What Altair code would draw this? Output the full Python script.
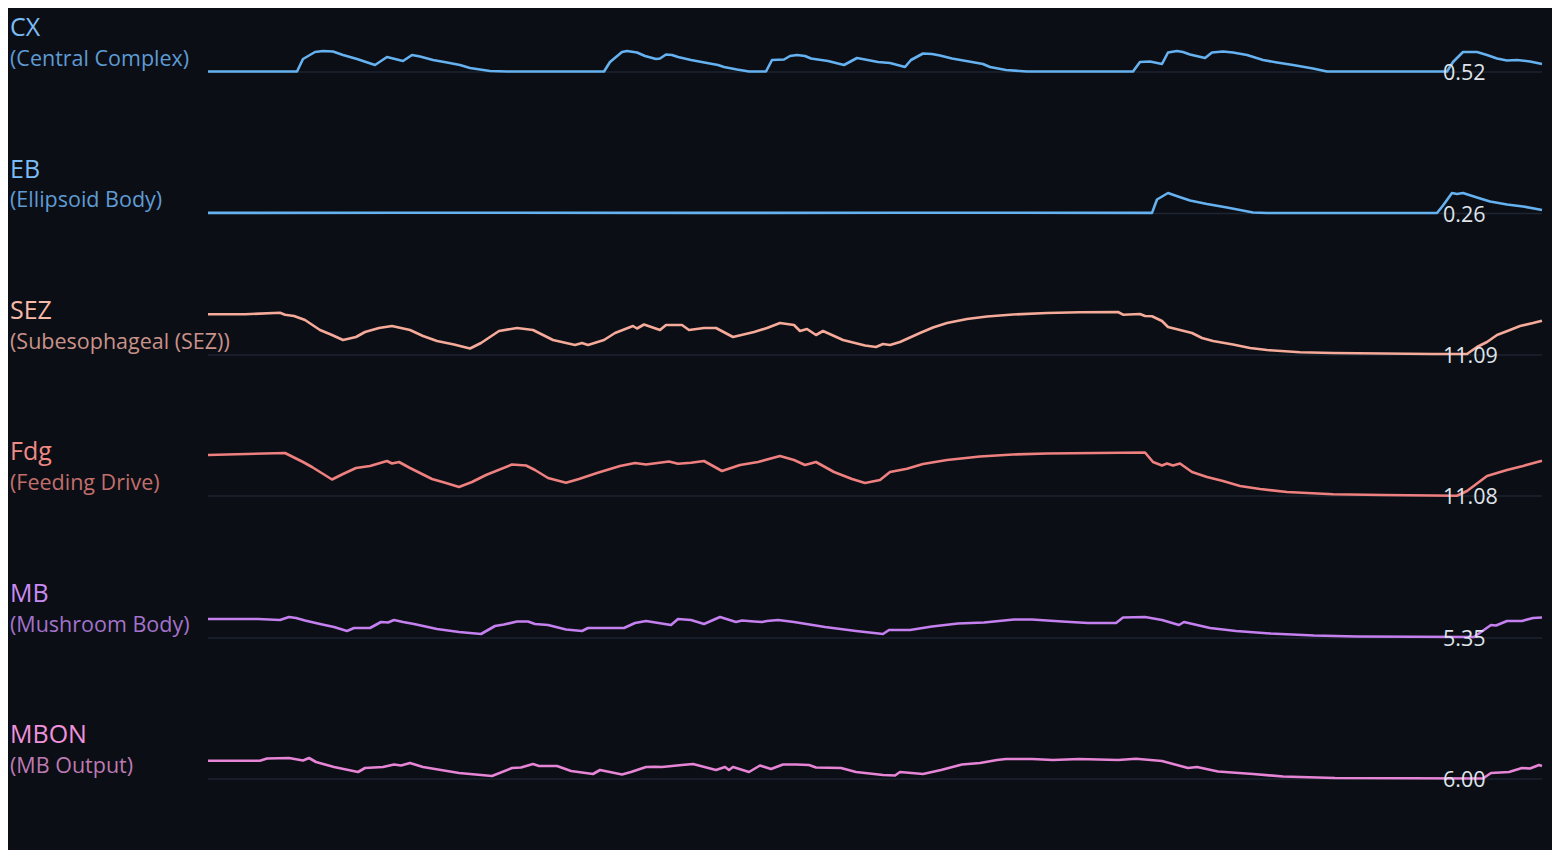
import altair as alt
import pandas as pd

# ---- data (t = frame position, v = activity level) ----
CX_T = [208, 297, 303, 315, 323, 333, 343, 357, 375, 387, 403, 412, 420, 433, 447, 460, 470, 490, 507,
        604, 610, 622, 627, 637, 645, 656, 660, 666, 672, 678, 691, 707, 718, 724, 737, 749, 766,
        772, 784, 790, 797, 805, 811, 828, 844, 857, 865, 878, 890, 905, 911, 923, 932, 940, 952,
        969, 983, 990, 1006, 1027, 1133, 1140, 1150, 1162, 1168, 1177, 1183, 1190, 1205, 1212, 1223,
        1233, 1247, 1263, 1277, 1293, 1313, 1327, 1447, 1453, 1463, 1477, 1487, 1497, 1507, 1517, 1530, 1542]
CX_V = [0.5, 0.5, 13, 20, 21, 20.5, 17, 13, 7, 15, 11, 17, 15.5, 12, 9.5, 7, 4, 1, 0.5,
        0.5, 10, 20, 21, 19.5, 16, 13, 13.5, 17.5, 17, 15, 12, 9, 7, 5, 2.5, 0.5, 0.5,
        12, 12.5, 16, 17, 16, 13.5, 11, 7, 14, 12.5, 10, 9, 5, 12, 18.5, 18, 16.5, 13.5,
        10.5, 8, 5, 2, 0.5, 0.5, 10, 10.5, 8, 19.5, 21, 20, 17.5, 14, 19.5, 20.5,
        19.5, 17, 12, 9.5, 7, 3.5, 0.5, 0.5, 10, 20, 20, 17, 13.5, 11.5, 12, 10.5, 8]

EB_T = [208, 400, 700, 900, 1152, 1157, 1168, 1178, 1190, 1207, 1227, 1253, 1267, 1437, 1443, 1452,
        1457, 1463, 1477, 1490, 1507, 1523, 1542]
EB_V = [0.6, 0.8, 0.6, 0.8, 0.6, 14, 20.5, 17, 13, 9.5, 6, 1, 0.5, 0.5, 8, 20.5,
        19.5, 20.5, 16, 12, 9, 7, 3.5]

SEZ_T = [208, 245, 280, 285, 294, 305, 320, 332, 343, 356, 365, 379, 392, 410, 423, 437, 454, 470, 481,
         499, 517, 533, 553, 575, 582, 588, 604, 615, 633, 637, 644, 660, 666, 682, 689, 704, 716, 733,
         754, 767, 780, 794, 800, 807, 816, 823, 843, 865, 876, 883, 890, 900, 920, 933, 947, 967, 987,
         1013, 1047, 1080, 1118, 1123, 1140, 1145, 1152, 1162, 1168, 1180, 1192, 1202, 1213, 1233, 1250,
         1267, 1300, 1333, 1383, 1433, 1467, 1477, 1487, 1497, 1510, 1520, 1533, 1542]
SEZ_V = [40.7, 40.7, 42.3, 40.3, 39, 35, 25, 20, 15, 18, 23, 27, 29, 25, 19, 14, 10.5, 6.5, 12,
         24, 27, 25, 15, 10, 12, 10, 15, 22, 29, 26.5, 30.5, 25, 30, 30, 25, 27, 27, 18,
         23, 27, 32, 30, 24, 26, 20, 24, 15, 9.5, 8, 11, 10, 13, 22, 27.5, 32, 36, 38.5,
         40.5, 42, 42.7, 43, 40.3, 41, 39, 38.7, 34, 28, 25, 22, 17, 14, 10.5, 7,
         5, 2.7, 2, 1.5, 1, 1, 8, 13, 20, 25, 29, 32, 34.3]

FDG_T = [208, 285, 303, 312, 332, 343, 356, 370, 387, 392, 399, 410, 432, 446, 459, 472, 486, 512, 526,
         535, 548, 566, 579, 597, 620, 635, 646, 669, 678, 691, 704, 722, 740, 758, 780, 794, 805, 816,
         834, 852, 865, 880, 890, 907, 923, 947, 980, 1013, 1047, 1145, 1153, 1162, 1167, 1173, 1180,
         1192, 1207, 1223, 1240, 1260, 1287, 1333, 1383, 1457, 1467, 1487, 1507, 1523, 1542]
FDG_V = [41, 43, 34, 29, 16.5, 22, 28, 30, 35, 32.5, 34, 28, 17, 13, 9, 14, 21, 31.5, 30.5,
         26, 18, 13.3, 17, 23, 30, 33, 31.5, 34.5, 32.3, 33.3, 35, 25, 31, 34, 40, 36, 31, 34,
         24, 17, 13, 16, 24, 27.3, 32, 36, 39.5, 41.5, 42.5, 43.5, 34, 30.5, 32.5, 30.5, 32.5,
         24, 19, 15, 10, 7, 4, 1.7, 1, 0.3, 5, 20, 26, 30, 35.3]

MB_T = [208, 258, 280, 289, 296, 305, 320, 334, 347, 354, 370, 381, 388, 394, 403, 414, 437, 459, 481,
        495, 504, 517, 528, 535, 548, 566, 582, 588, 624, 635, 646, 671, 678, 691, 704, 720, 736, 742,
        754, 762, 767, 778, 794, 825, 856, 883, 889, 910, 932, 958, 984, 1014, 1032, 1062, 1088, 1116,
        1123, 1145, 1162, 1179, 1184, 1210, 1236, 1270, 1314, 1357, 1474, 1491, 1496, 1507, 1522, 1533, 1542]
MB_V = [19, 19, 18, 21, 20, 17.5, 14, 11, 7, 10, 10, 16, 15.5, 18, 16, 14, 9, 6, 4,
        12, 13.5, 16.5, 16.5, 14, 13, 8.5, 7, 10, 10, 15, 17, 13, 19, 18, 14, 21, 16, 17.5,
        16.5, 16, 17, 18, 16, 11, 7, 4, 8, 8, 11.5, 14.5, 15.5, 18.5, 18.5, 16.5, 15, 15,
        20.5, 21, 18, 13, 16, 10, 7, 4.5, 2.5, 1.5, 1, 13, 12.5, 17, 17, 20, 20.5]

MBON_T = [208, 260, 267, 289, 303, 309, 316, 334, 358, 365, 383, 394, 401, 410, 423, 459, 492, 512, 521,
          533, 539, 557, 571, 593, 600, 622, 631, 646, 655, 662, 682, 693, 716, 725, 729, 733, 749, 760,
          771, 783, 796, 809, 816, 841, 856, 883, 895, 900, 923, 941, 962, 980, 997, 1006, 1032, 1053,
          1079, 1118, 1136, 1162, 1188, 1197, 1218, 1253, 1283, 1335, 1483, 1491, 1509, 1522, 1530, 1539, 1542]
MBON_V = [18.3, 18.3, 20.5, 21, 18.5, 21, 17, 12, 7, 11, 12, 14.5, 13.5, 16, 12, 6, 3, 11, 11.5,
          15, 13, 13, 8, 5, 9, 4.5, 7, 12, 12.3, 12, 14, 15, 9, 12, 9, 12, 7, 13.5,
          10, 14.5, 14.5, 14, 11.5, 11, 7, 4, 3.5, 7, 5, 9, 14.5, 16, 19, 20, 20, 19,
          20, 19, 20.3, 18, 11, 12, 7.5, 5, 2.5, 1, 0.5, 6, 7, 11, 10.5, 14, 13]

NAMES = ["CX", "EB", "SEZ", "Fdg", "MB", "MBON"]
DESCS = ["(Central Complex)", "(Ellipsoid Body)", "(Subesophageal (SEZ))",
         "(Feeding Drive)", "(Mushroom Body)", "(MB Output)"]
VALUE_LABELS = ["0.52", "0.26", "11.09", "11.08", "5.35", "6.00"]
SERIES_T = [CX_T, EB_T, SEZ_T, FDG_T, MB_T, MBON_T]
SERIES_V = [CX_V, EB_V, SEZ_V, FDG_V, MB_V, MBON_V]

# ---- styling ----
LINE_COLORS = ["#66b2f0", "#66b2f0", "#f5aa9a", "#ef8080", "#c580f0", "#e684d6"]
NAME_COLORS = ["#7cbcf5", "#7cbcf5", "#f7b9a8", "#f08a84", "#c98cf2", "#ef92dc"]
DESC_COLORS = ["#5f9bd4", "#5f9bd4", "#c9928a", "#c26e6c", "#a373cc", "#bd7ab2"]
BASE_PY = [64, 205.5, 347, 488, 630, 771]
AMP = 50
BG = "#0b0e14"
FONT = "Open Sans"
W, H = 1334, 842

xscale = alt.Scale(domain=[208, 1542])
layers = []
for i in range(6):
    b = BASE_PY[i]
    yscale = alt.Scale(domain=[0, AMP], range=[b, b - AMP])
    df = pd.DataFrame({"t": SERIES_T[i], "v": SERIES_V[i]})
    rule = alt.Chart(pd.DataFrame({"v": [0]})).mark_rule(
        color="#1e2431", strokeWidth=1.5
    ).encode(
        y=alt.Y("v:Q", scale=yscale, axis=None),
        x=alt.value(0), x2=alt.value(W),
    )
    line = alt.Chart(df).mark_line(
        color=LINE_COLORS[i], strokeWidth=2.6, strokeJoin="round"
    ).encode(
        x=alt.X("t:Q", scale=xscale, axis=None),
        y=alt.Y("v:Q", scale=yscale, axis=None),
    )
    name = alt.Chart(pd.DataFrame({"s": [NAMES[i]]})).mark_text(
        align="left", baseline="alphabetic", font=FONT, fontSize=25,
        color=NAME_COLORS[i]
    ).encode(text="s:N", x=alt.value(-198), y=alt.value(b - 36))
    desc = alt.Chart(pd.DataFrame({"s": [DESCS[i]]})).mark_text(
        align="left", baseline="alphabetic", font=FONT, fontSize=21.5,
        color=DESC_COLORS[i]
    ).encode(text="s:N", x=alt.value(-198), y=alt.value(b - 6.5))
    val = alt.Chart(pd.DataFrame({"s": [VALUE_LABELS[i]]})).mark_text(
        align="left", baseline="alphabetic", font=FONT, fontSize=21.5,
        color="#dfe3ea"
    ).encode(text="s:N", x=alt.value(1235), y=alt.value(b + 8))
    layers += [rule, line, name, desc, val]

chart = alt.layer(*layers).resolve_scale(y="independent").properties(
    width=W, height=H,
    padding={"left": 200, "top": 0, "right": 10, "bottom": 0},
    autosize=alt.AutoSizeParams(type="none"),
    background=BG,
).configure_view(stroke=None)

chart.save("out.html", embed_options={"renderer": "svg", "actions": False})
